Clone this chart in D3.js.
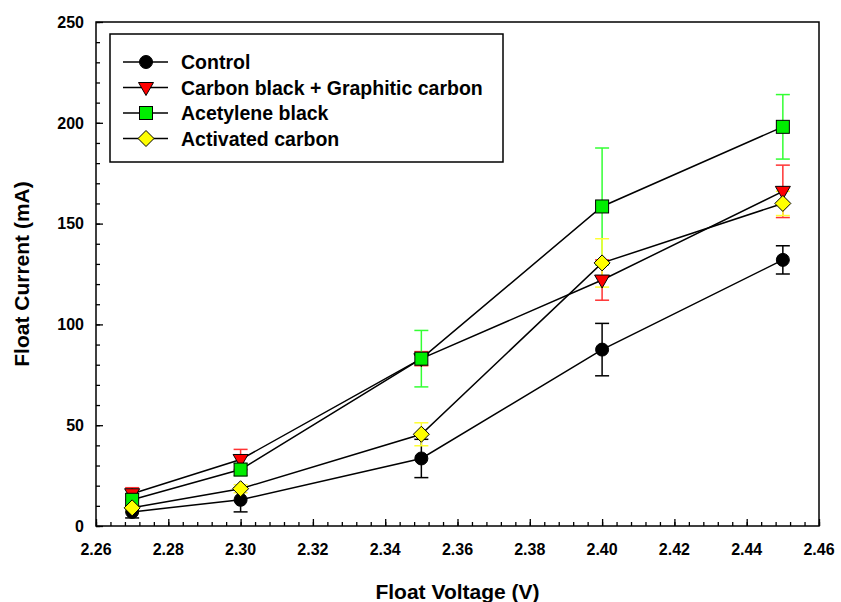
<!DOCTYPE html>
<html>
<head>
<meta charset="utf-8">
<script src="https://cdn.jsdelivr.net/npm/d3@7"></script>
<style>
  body { margin: 0; background: #fff; }
  text { font-family: Arial, "Liberation Sans", sans-serif; font-weight: bold; }
</style>
</head>
<body>
<svg id="chart" width="841" height="602"></svg>
<script>
var voltages = [2.27, 2.30, 2.35, 2.40, 2.45];

var seriesNames = ["Control", "Carbon black + Graphitic carbon", "Acetylene black", "Activated carbon"];
var seriesFill = ["#000000", "#ff0000", "#00ee00", "#ffff00"];
var seriesErrColor = ["#000000", "#ff3333", "#33ff33", "#ffff33"];
var seriesShape = ["circle", "triangleDown", "square", "diamond"];

var controlVals = [7, 13, 33.5, 87.5, 132];
var controlErr = [3, 6, 9.5, 13, 7];
var carbonGraphVals = [16, 33, 83, 122, 166];
var carbonGraphErr = [3, 5, 3.5, 10, 13];
var acetyleneVals = [13, 28, 83, 158.5, 198];
var acetyleneErr = [3, 3, 14, 29, 16];
var activatedVals = [9, 18.5, 45.5, 130.5, 160];
var activatedErr = [2, 2, 5.7, 12, 6];

var xTicks = [2.26, 2.28, 2.30, 2.32, 2.34, 2.36, 2.38, 2.40, 2.42, 2.44, 2.46];
var yTicks = [0, 50, 100, 150, 200, 250];

var MARGIN = { left: 96, right: 22, top: 22, bottom: 76 };
var W = 841, H = 602;

function main() {
    var svg = d3.select("#chart");
    var allVals = [controlVals, carbonGraphVals, acetyleneVals, activatedVals];
    var allErr = [controlErr, carbonGraphErr, acetyleneErr, activatedErr];

    var x = d3.scaleLinear().domain([2.26, 2.46]).range([MARGIN.left, W - MARGIN.right]);
    var y = d3.scaleLinear().domain([0, 250]).range([H - MARGIN.bottom, MARGIN.top]);

    // frame
    svg.append("rect")
        .attr("x", x(2.26)).attr("y", y(250))
        .attr("width", x(2.46) - x(2.26)).attr("height", y(0) - y(250))
        .attr("fill", "none").attr("stroke", "#000").attr("stroke-width", 1.5);

    // minor ticks (inward)
    var xAxisMinor = d3.axisTop(x).tickValues(d3.range(2.26, 2.4601, 0.004)).tickSize(4).tickFormat("");
    svg.append("g").attr("transform", "translate(0," + y(0) + ")").call(xAxisMinor)
        .call(function(g) { g.select(".domain").remove(); });
    var yAxisMinor = d3.axisRight(y).tickValues(d3.range(0, 251, 10)).tickSize(4).tickFormat("");
    svg.append("g").attr("transform", "translate(" + x(2.26) + ",0)").call(yAxisMinor)
        .call(function(g) { g.select(".domain").remove(); });

    // major ticks (inward) + labels outside
    var xAxis = d3.axisTop(x).tickValues(xTicks).tickSize(7).tickFormat("");
    svg.append("g").attr("transform", "translate(0," + y(0) + ")").call(xAxis)
        .call(function(g) { g.select(".domain").remove(); });
    var yAxis = d3.axisRight(y).tickValues(yTicks).tickSize(7).tickFormat("");
    svg.append("g").attr("transform", "translate(" + x(2.26) + ",0)").call(yAxis)
        .call(function(g) { g.select(".domain").remove(); });
    svg.selectAll(".tick line").attr("stroke", "#000").attr("stroke-width", 1.3);

    svg.selectAll(".xlab").data(xTicks).enter().append("text")
        .attr("class", "xlab")
        .attr("x", function(d) { return x(d); })
        .attr("y", y(0) + 29)
        .attr("text-anchor", "middle")
        .style("font-size", "16px")
        .text(function(d) { return d3.format(".2f")(d); });
    svg.selectAll(".ylab").data(yTicks).enter().append("text")
        .attr("class", "ylab")
        .attr("x", x(2.26) - 12)
        .attr("y", function(d) { return y(d); })
        .attr("dy", "0.36em")
        .attr("text-anchor", "end")
        .style("font-size", "16px")
        .text(function(d) { return d; });

    svg.append("text")
        .attr("x", (x(2.26) + x(2.46)) / 2)
        .attr("y", 599)
        .attr("text-anchor", "middle")
        .style("font-size", "21px")
        .text("Float Voltage (V)");
    svg.append("text")
        .attr("transform", "translate(29," + (y(125)) + ") rotate(-90)")
        .attr("text-anchor", "middle")
        .style("font-size", "21px")
        .text("Float Current (mA)");

    var line = d3.line()
        .x(function(d, i) { return x(voltages[i]); })
        .y(function(d) { return y(d); });

    // lines and error bars
    for (var s = 0; s < allVals.length; s++) {
        var g = svg.append("g");
        var vals = allVals[s], errs = allErr[s];
        for (var i = 0; i < vals.length; i++) {
            var cx = x(voltages[i]);
            var top = y(vals[i] + errs[i]), bot = y(vals[i] - errs[i]);
            g.append("line").attr("x1", cx).attr("x2", cx).attr("y1", top).attr("y2", bot)
                .attr("stroke", seriesErrColor[s]).attr("stroke-width", 1.5);
            [top, bot].forEach(function(yy) {
                g.append("line").attr("x1", cx - 7).attr("x2", cx + 7).attr("y1", yy).attr("y2", yy)
                    .attr("stroke", seriesErrColor[s]).attr("stroke-width", 1.5);
            });
        }
    }
    for (var s = 0; s < allVals.length; s++) {
        svg.append("path").attr("d", line(allVals[s]))
            .attr("fill", "none").attr("stroke", "#000").attr("stroke-width", 1.5);
    }
    // markers
    for (var s = 0; s < allVals.length; s++) {
        for (var i = 0; i < allVals[s].length; i++) {
            drawMarker(svg, seriesShape[s], x(voltages[i]), y(allVals[s][i]), seriesFill[s]);
        }
    }

    addLegend(svg);
}

function drawMarker(svg, shape, cx, cy, fill) {
    if (shape == "circle") {
        svg.append("circle").attr("cx", cx).attr("cy", cy).attr("r", 6.5)
            .attr("fill", fill).attr("stroke", "#000").attr("stroke-width", 1);
        return;
    }
    if (shape == "square") {
        svg.append("rect").attr("x", cx - 6.5).attr("y", cy - 6.5).attr("width", 13).attr("height", 13)
            .attr("fill", fill).attr("stroke", "#000").attr("stroke-width", 1);
        return;
    }
    var pts;
    if (shape == "triangleDown") {
        pts = [[cx - 7.5, cy - 5], [cx + 7.5, cy - 5], [cx, cy + 8]];
    } else {
        pts = [[cx, cy - 8], [cx + 8, cy], [cx, cy + 8], [cx - 8, cy]];
    }
    svg.append("polygon").attr("points", pts.map(function(p) { return p.join(","); }).join(" "))
        .attr("fill", fill).attr("stroke", "#000").attr("stroke-width", 1);
}

function addLegend(svg) {
    svg.append("rect").attr("x", 110).attr("y", 34).attr("width", 393).attr("height", 128)
        .attr("fill", "#fff").attr("stroke", "#000").attr("stroke-width", 1.5);
    for (var s = 0; s < seriesNames.length; s++) {
        var ly = 62 + s * 25.5;
        svg.append("line").attr("x1", 123).attr("x2", 168).attr("y1", ly).attr("y2", ly)
            .attr("stroke", "#000").attr("stroke-width", 1.5);
        drawMarker(svg, seriesShape[s], 146, ly, seriesFill[s]);
        svg.append("text").attr("x", 181).attr("y", ly).attr("dy", "0.36em")
            .style("font-size", "19.5px")
            .text(seriesNames[s]);
    }
}

main();
</script>
</body>
</html>
